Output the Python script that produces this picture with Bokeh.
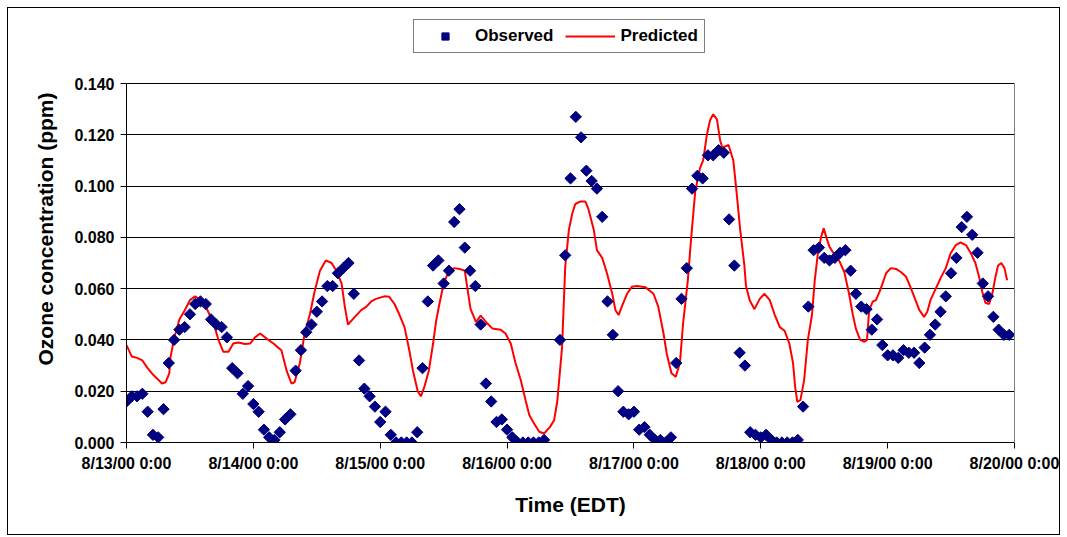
from bokeh.plotting import figure
from bokeh.models import (ColumnDataSource, FixedTicker, NumeralTickFormatter,
                          Legend, LegendItem, Range1d, LinearAxis)
from bokeh.embed import file_html
from bokeh.resources import INLINE

FONT = "Liberation Sans"

# ---- data (hours since 8/13/00 0:00) ----
obs_hours = list(range(0, 80)) + list(range(82, 168))
obs_values = [
    0.016, 0.018, 0.018, 0.019, 0.012, 0.003, 0.002, 0.013, 0.031, 0.040,
    0.044, 0.045, 0.050, 0.054, 0.055, 0.054, 0.048, 0.046, 0.045, 0.041,
    0.029, 0.027, 0.019, 0.022, 0.015, 0.012, 0.005, 0.002, 0.001, 0.004,
    0.009, 0.011, 0.028, 0.036, 0.043, 0.046, 0.051, 0.055, 0.061, 0.061,
    0.066, 0.068, 0.070, 0.058, 0.032, 0.021, 0.018, 0.014, 0.008, 0.012,
    0.003, 0.000, 0.000, 0.000, 0.000, 0.004, 0.029, 0.055, 0.069, 0.071,
    0.062, 0.067, 0.086, 0.091, 0.076, 0.067, 0.061, 0.046, 0.023, 0.016,
    0.008, 0.009, 0.005, 0.002, 0.000, 0.000, 0.000, 0.000, 0.000, 0.001,
    # 82..
    0.040, 0.073, 0.103, 0.127, 0.119, 0.106, 0.102, 0.099, 0.088, 0.055,
    0.042, 0.020, 0.012, 0.011, 0.012, 0.005, 0.006, 0.003, 0.001, 0.001,
    0.000, 0.002, 0.031, 0.056, 0.068, 0.099, 0.104, 0.103, 0.112, 0.112,
    0.114, 0.113, 0.087, 0.069, 0.035, 0.030, 0.004, 0.003, 0.002, 0.003,
    0.001, 0.000, 0.000, 0.000, 0.000, 0.001, 0.014, 0.053, 0.075, 0.076,
    0.072, 0.071, 0.072, 0.074, 0.075, 0.067, 0.058, 0.053, 0.052, 0.044,
    0.048, 0.038, 0.034, 0.034, 0.033, 0.036, 0.035, 0.035, 0.031, 0.037,
    0.042, 0.046, 0.051, 0.057, 0.066, 0.072, 0.084, 0.088, 0.081, 0.074,
    0.062, 0.057, 0.049, 0.044, 0.042, 0.042,
]

pred_hours = [
    0, 1, 2, 3, 4, 5, 6, 6.7, 7.4, 8.1, 8.3, 9, 10, 11, 12, 13, 14, 15, 16.5,
    17.4, 18.3, 19.3, 20.2, 21.2, 22.4, 23.4, 24.3, 25.3, 26.5, 27.8, 28.7,
    29.3, 30.3, 31.2, 31.8, 32.8, 33.7, 34.7, 35.6, 36.6, 37.7, 38.8, 39.7,
    40.7, 41.3, 41.9, 43.2, 44.4, 45.4, 46.3, 47.2, 48.8, 49.7, 50.7, 51.6,
    52.6, 53.5, 54.2, 55.1, 55.7, 56.4, 57.2, 58, 58.6, 59.2, 60, 60.8, 62,
    63, 64, 64.5, 65.1, 66.1, 67, 68, 69.2, 70.8, 71.7, 72.7, 73.6, 74.6,
    75.5, 76.2, 77.1, 78.1, 79, 80.1, 80.9, 81.5, 82.4, 83, 83.7, 84.3, 84.9,
    85.9, 86.8, 87.4, 88.4, 89, 90, 90.9, 91.9, 92.5, 93.1, 93.7, 94.7, 95.6,
    96.6, 98.2, 99.7, 100.6, 101.6, 102.2, 103.1, 103.9, 104.7, 105.3, 106.2,
    106.8, 107.6, 108.5, 109.1, 109.8, 110.4, 111, 111.7, 112.3, 112.7,
    113.9, 114.8, 115.4, 116.1, 116.9, 117.2, 117.9, 118.8, 119.8, 120.7,
    121.7, 122.6, 123.6, 124.5, 125.4, 126.1, 126.5, 126.9, 127.5, 128.2,
    128.9, 129.7, 130.2, 130.8, 131.4, 131.9, 132.4, 133, 133.8, 134.8,
    135.8, 136.7, 137.4, 138, 138.8, 139.6, 140.1, 140.5, 141.2, 141.8,
    142.7, 143.7, 144.6, 145.6, 146.5, 147.5, 148.3, 149, 150, 150.9, 151.5,
    152.1, 153.1, 154, 155, 155.9, 156.9, 157.8, 158.8, 159.7, 160.6, 161.3,
    161.9, 162.5, 163.2, 163.8, 164.4, 164.9, 165.5, 166.1, 166.6,
]
pred_values = [
    0.038, 0.0335, 0.033, 0.032, 0.029, 0.0265, 0.0245, 0.023, 0.0235, 0.027,
    0.033, 0.0405, 0.048, 0.0515, 0.0555, 0.057, 0.0555, 0.053, 0.0464,
    0.040, 0.0354, 0.0354, 0.0386, 0.039, 0.0384, 0.0386, 0.041, 0.0425,
    0.0405, 0.0386, 0.037,
    0.036, 0.028, 0.023, 0.0235, 0.031, 0.0425, 0.050, 0.059, 0.067, 0.071,
    0.070, 0.067, 0.062, 0.053, 0.046, 0.049, 0.0516, 0.053, 0.055, 0.056,
    0.057, 0.0568, 0.054, 0.050, 0.045, 0.036, 0.028, 0.020, 0.018, 0.022,
    0.028, 0.0386, 0.0477, 0.054, 0.062, 0.066, 0.068, 0.0677, 0.067, 0.060,
    0.052, 0.047, 0.0495, 0.047, 0.0445, 0.044, 0.0425, 0.0386, 0.031,
    0.0243, 0.0165, 0.0107, 0.0074, 0.0042, 0.0035, 0.006, 0.0087, 0.016,
    0.037, 0.0685, 0.083, 0.089, 0.093, 0.094, 0.094, 0.091, 0.083, 0.075,
    0.072, 0.066, 0.058, 0.0516, 0.0497, 0.053, 0.058, 0.0607, 0.061, 0.0605,
    0.058, 0.053, 0.0425, 0.0347, 0.027, 0.0256, 0.031, 0.0464, 0.0633,
    0.079, 0.098, 0.107, 0.110, 0.120, 0.1257, 0.128, 0.126, 0.118, 0.115,
    0.116, 0.110, 0.098, 0.083, 0.069, 0.061, 0.0555, 0.052, 0.056, 0.058,
    0.0555, 0.050, 0.045, 0.0436, 0.0386, 0.031, 0.0217, 0.0159, 0.0165,
    0.0243, 0.0399, 0.050, 0.063, 0.0737, 0.080, 0.0835, 0.080, 0.0763,
    0.0737, 0.071, 0.0665, 0.058, 0.050, 0.0443, 0.040, 0.0393, 0.040,
    0.0516, 0.055, 0.0555, 0.060, 0.066, 0.068, 0.0677, 0.0665, 0.0646,
    0.0607, 0.057, 0.0516, 0.049, 0.051, 0.0555, 0.060, 0.064, 0.068, 0.0737,
    0.077, 0.078, 0.077, 0.074, 0.070, 0.0646, 0.0588, 0.0545, 0.054, 0.058,
    0.0646, 0.069, 0.070, 0.068, 0.0633,
]

day_ticks = [0, 24, 48, 72, 96, 120, 144, 168]
day_labels = ["8/13/00 0:00", "8/14/00 0:00", "8/15/00 0:00", "8/16/00 0:00",
              "8/17/00 0:00", "8/18/00 0:00", "8/19/00 0:00", "8/20/00 0:00"]
y_ticks = [0.0, 0.02, 0.04, 0.06, 0.08, 0.10, 0.12, 0.14]
Y_MAX = 0.14

# plot area 359 px tall for 0..0.14; the frame reaches higher to hold the legend
PLOT_H = 359
FRAME_H = 427
y_top = Y_MAX * FRAME_H / PLOT_H

p = figure(frame_width=888, frame_height=FRAME_H,
           min_border_left=118, min_border_right=45,
           min_border_top=7, min_border_bottom=92,
           x_range=Range1d(0, 168), y_range=Range1d(0, y_top),
           output_backend="svg", toolbar_location=None)
p.styles = {"border": "1px solid #000000", "margin-left": "7px",
            "margin-top": "7px"}
p.title.visible = False
p.background_fill_color = "white"
p.border_fill_color = "white"
p.outline_line_color = None

p.xgrid.grid_line_color = None
p.ygrid.grid_line_color = "#000000"
p.ygrid.grid_line_width = 1
p.ygrid.ticker = FixedTicker(ticks=y_ticks)

p.xaxis.ticker = FixedTicker(ticks=day_ticks)
p.xaxis.major_label_overrides = {t: l for t, l in zip(day_ticks, day_labels)}
p.yaxis.ticker = FixedTicker(ticks=y_ticks)
p.yaxis.formatter = NumeralTickFormatter(format="0.000")
p.yaxis.bounds = (0, Y_MAX)

for ax in (p.xaxis[0], p.yaxis[0]):
    ax.axis_line_color = "#000000"
    ax.axis_line_width = 1
    ax.major_tick_line_color = "#000000"
    ax.major_tick_in = 0
    ax.major_tick_out = 6
    ax.minor_tick_line_color = None
    ax.major_label_text_font = FONT
    ax.major_label_text_font_style = "bold"
    ax.major_label_text_font_size = "16px"
    ax.major_label_text_color = "#000000"
    ax.axis_label_text_font = FONT
    ax.axis_label_text_font_style = "bold"
    ax.axis_label_text_font_size = "21px"
    ax.axis_label_text_color = "#000000"

p.xaxis.axis_label = "Time (EDT)"
p.yaxis.axis_label = "Ozone concentration (ppm)"
p.xaxis.major_label_standoff = 6
p.yaxis.major_label_standoff = 6
p.xaxis.axis_label_standoff = 18
p.yaxis.axis_label_standoff = 14

# right edge of the plot area (gray, no ticks)
right_edge = LinearAxis(bounds=(0, Y_MAX), ticker=FixedTicker(ticks=[]),
                        axis_line_color="#808080", major_tick_line_color=None,
                        minor_tick_line_color=None,
                        major_label_text_color=None)
p.add_layout(right_edge, "right")

obs_src = ColumnDataSource(dict(x=obs_hours, y=obs_values))
pred_src = ColumnDataSource(dict(x=pred_hours, y=pred_values))

r_pred = p.line("x", "y", source=pred_src, line_color="#FF0000", line_width=2)
r_obs = p.scatter("x", "y", source=obs_src, marker="square", size=8,
                  angle=0.785398, fill_color="#000080", line_color="#000080")

legend = Legend(items=[LegendItem(label="Observed", renderers=[r_obs]),
                       LegendItem(label="Predicted", renderers=[r_pred])],
                orientation="horizontal", location=(287, 389))
legend.label_text_font = FONT
legend.label_text_font_style = "bold"
legend.label_text_font_size = "17px"
legend.label_text_color = "#000000"
legend.border_line_color = "#000000"
legend.border_line_width = 1
legend.background_fill_color = "white"
legend.background_fill_alpha = 1
legend.glyph_width = 50
legend.glyph_height = 18
legend.label_height = 18
legend.label_standoff = 5
legend.spacing = 12
legend.padding = 6
legend.margin = 0
p.add_layout(legend, "center")

open("out.html", "w").write(file_html(p, INLINE))
